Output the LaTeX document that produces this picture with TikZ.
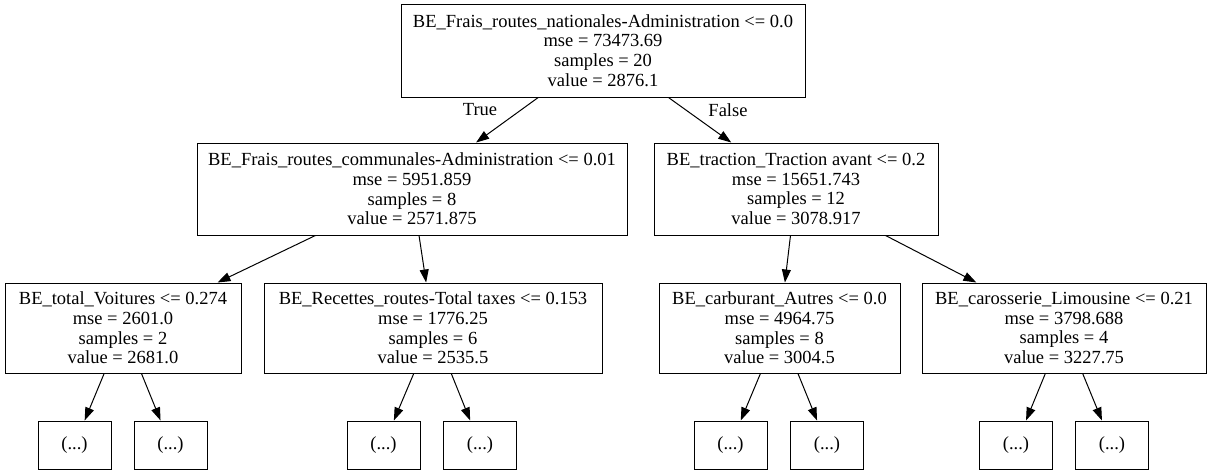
\documentclass[tikz,border=0pt]{standalone}
\usepackage{fontspec}
\setmainfont{Liberation Serif}
\usepackage{tikz}
\usetikzlibrary{arrows.meta}
\newcommand{\dtfont}{\fontsize{18.5pt}{19.8pt}\selectfont}

\begin{document}
\begin{tikzpicture}[
    x=1pt, y=-1pt,
    >={Triangle[length=13pt,width=9pt]},
    split/.style={draw, line width=1pt, inner sep=0pt, align=center, font=\dtfont},
    leaf/.style={draw, line width=1pt, inner sep=0pt, minimum width=73pt, minimum height=48pt, font=\dtfont},
    edgelab/.style={inner sep=0pt, font=\dtfont},
    link/.style={->, line width=1pt}
]
\useasboundingbox (0,0) rectangle (1211,475);

\node[split, minimum width=404pt, minimum height=93pt] (root) at (603,50.5)
  {BE\_Frais\_routes\_nationales-Administration <= 0.0\\mse = 73473.69\\samples = 20\\value = 2876.1};

\node[split, minimum width=430pt, minimum height=92pt] (comm) at (412,189)
  {BE\_Frais\_routes\_communales-Administration <= 0.01\\mse = 5951.859\\samples = 8\\value = 2571.875};
\node[split, minimum width=284pt, minimum height=92pt] (trac) at (796,189)
  {BE\_traction\_Traction avant <= 0.2\\mse = 15651.743\\samples = 12\\value = 3078.917};

\node[split, minimum width=236pt, minimum height=90pt] (voit) at (123,328)
  {BE\_total\_Voitures <= 0.274\\mse = 2601.0\\samples = 2\\value = 2681.0};
\node[split, minimum width=338pt, minimum height=90pt] (rect) at (433,328)
  {BE\_Recettes\_routes-Total taxes <= 0.153\\mse = 1776.25\\samples = 6\\value = 2535.5};
\node[split, minimum width=241pt, minimum height=90pt] (carb) at (779.5,328)
  {BE\_carburant\_Autres <= 0.0\\mse = 4964.75\\samples = 8\\value = 3004.5};
\node[split, minimum width=284pt, minimum height=90pt] (limo) at (1064,328)
  {BE\_carosserie\_Limousine <= 0.21\\mse = 3798.688\\samples = 4\\value = 3227.75};

\node[leaf] (voitl) at (74.5,445) {(...)};
\node[leaf] (voitr) at (170.5,445) {(...)};
\node[leaf] (rectl) at (383.5,445) {(...)};
\node[leaf] (rectr) at (480,445) {(...)};
\node[leaf] (carbl) at (730.5,445) {(...)};
\node[leaf] (carbr) at (827,445) {(...)};
\node[leaf] (limol) at (1016,445) {(...)};
\node[leaf] (limor) at (1112,445) {(...)};

\node[edgelab] (truelab) at (480,110) {True};
\node[edgelab] (falselab) at (728,110) {False};

\draw[link] (root) -- (comm);
\draw[link] (root) -- (trac);
\draw[link] (comm) -- (voit);
\draw[link] (comm) -- (rect);
\draw[link] (trac) -- (carb);
\draw[link] (trac) -- (limo);
\draw[link] (voit) -- (voitl);
\draw[link] (voit) -- (voitr);
\draw[link] (rect) -- (rectl);
\draw[link] (rect) -- (rectr);
\draw[link] (carb) -- (carbl);
\draw[link] (carb) -- (carbr);
\draw[link] (limo) -- (limol);
\draw[link] (limo) -- (limor);
\end{tikzpicture}
\end{document}
